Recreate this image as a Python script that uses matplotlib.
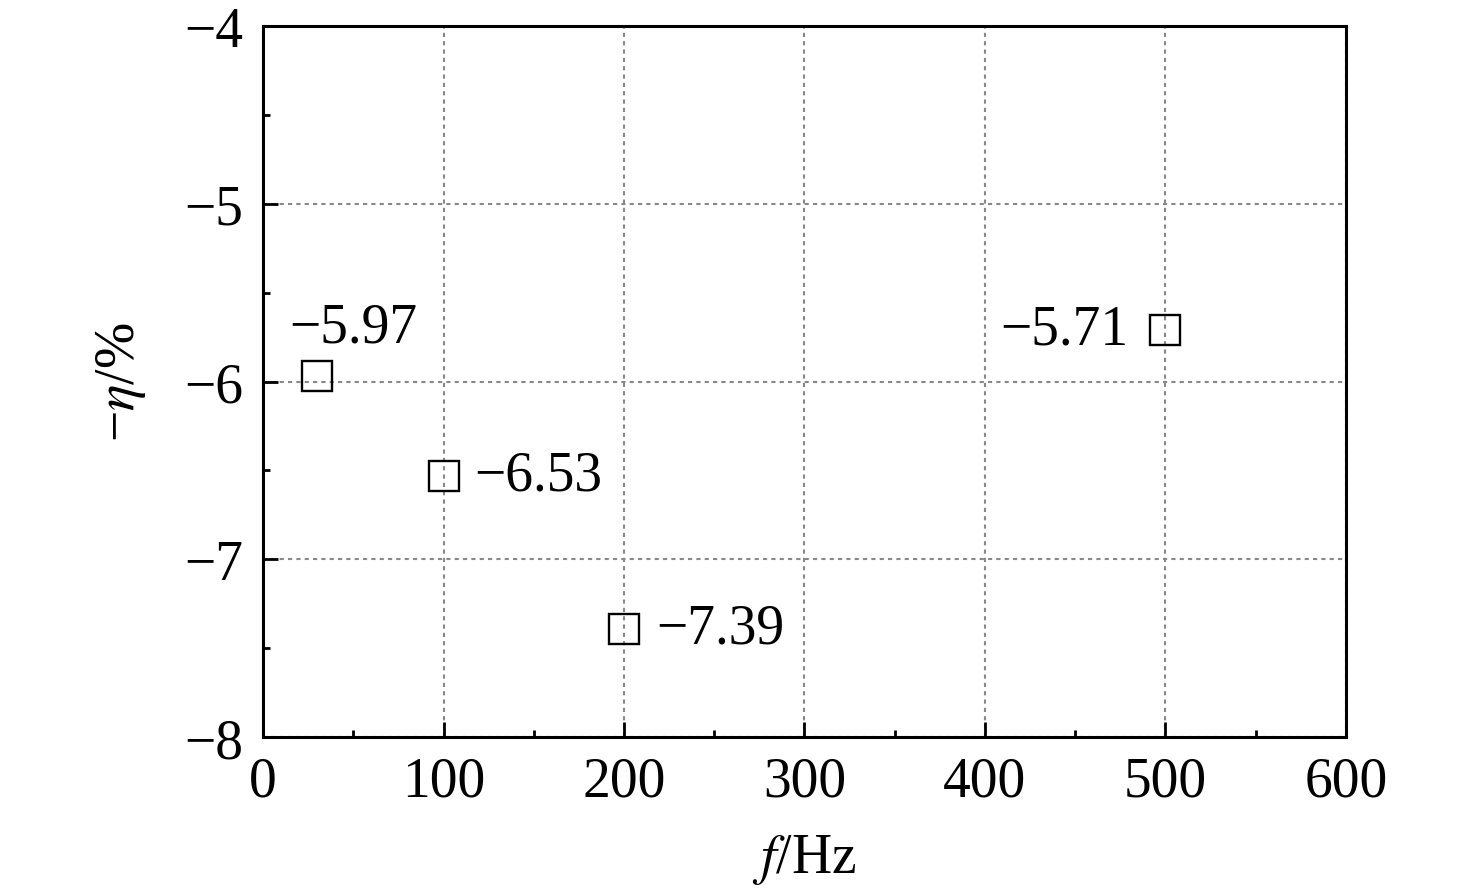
import matplotlib.pyplot as plt
from matplotlib.ticker import MultipleLocator

plt.rcParams['font.family'] = ['Liberation Serif', 'DejaVu Serif']
plt.rcParams['mathtext.fontset'] = 'stix'

# 數據
freq = [30, 100, 200, 500]
eta = [-5.97, -6.53, -7.39, -5.71]
labels = ['\u22125.97', '\u22126.53', '\u22127.39', '\u22125.71']
# 標註位置 (offset points, ha)
offsets = [((26, 35), 'center'), ((22, 0), 'left'), ((23, 0), 'left'), ((-27, 0), 'right')]

fig = plt.figure(figsize=(14.76, 8.95), dpi=100)
ax = fig.add_axes([0.1782, 0.1754, 0.7337, 0.7944])

ax.plot(freq, eta, linestyle='none', marker='s', markersize=21,
        markerfacecolor='none', markeredgecolor='black', markeredgewidth=1.7, zorder=3)

for x, y, t, (off, ha) in zip(freq, eta, labels, offsets):
    ax.annotate(t, (x, y), xytext=off, textcoords='offset points',
                ha=ha, va='center', fontsize=40)

ax.set_xlim(0, 600)
ax.set_ylim(-8, -4)
ax.xaxis.set_major_locator(MultipleLocator(100))
ax.xaxis.set_minor_locator(MultipleLocator(50))
ax.yaxis.set_major_locator(MultipleLocator(1))
ax.yaxis.set_minor_locator(MultipleLocator(0.5))
ax.set_yticks([-8, -7, -6, -5, -4])
ax.set_yticklabels(['\u22128', '\u22127', '\u22126', '\u22125', '\u22124'])

ax.tick_params(which='both', direction='in', top=False, right=False, labelsize=40, width=2)
ax.tick_params(which='major', length=11)
ax.tick_params(which='minor', length=5)
ax.tick_params(axis='x', pad=13)
ax.tick_params(axis='y', pad=14)

for s in ax.spines.values():
    s.set_linewidth(2.2)

ax.grid(True, which='major', linestyle=(0, (2, 2)), color='#888888', linewidth=1.5)

ax.set_xlabel('$f$/Hz', fontsize=40, labelpad=18)
ax.set_ylabel('\u2212$\\eta$/%', fontsize=40, labelpad=26)

fig.savefig('out.png', dpi=100)
